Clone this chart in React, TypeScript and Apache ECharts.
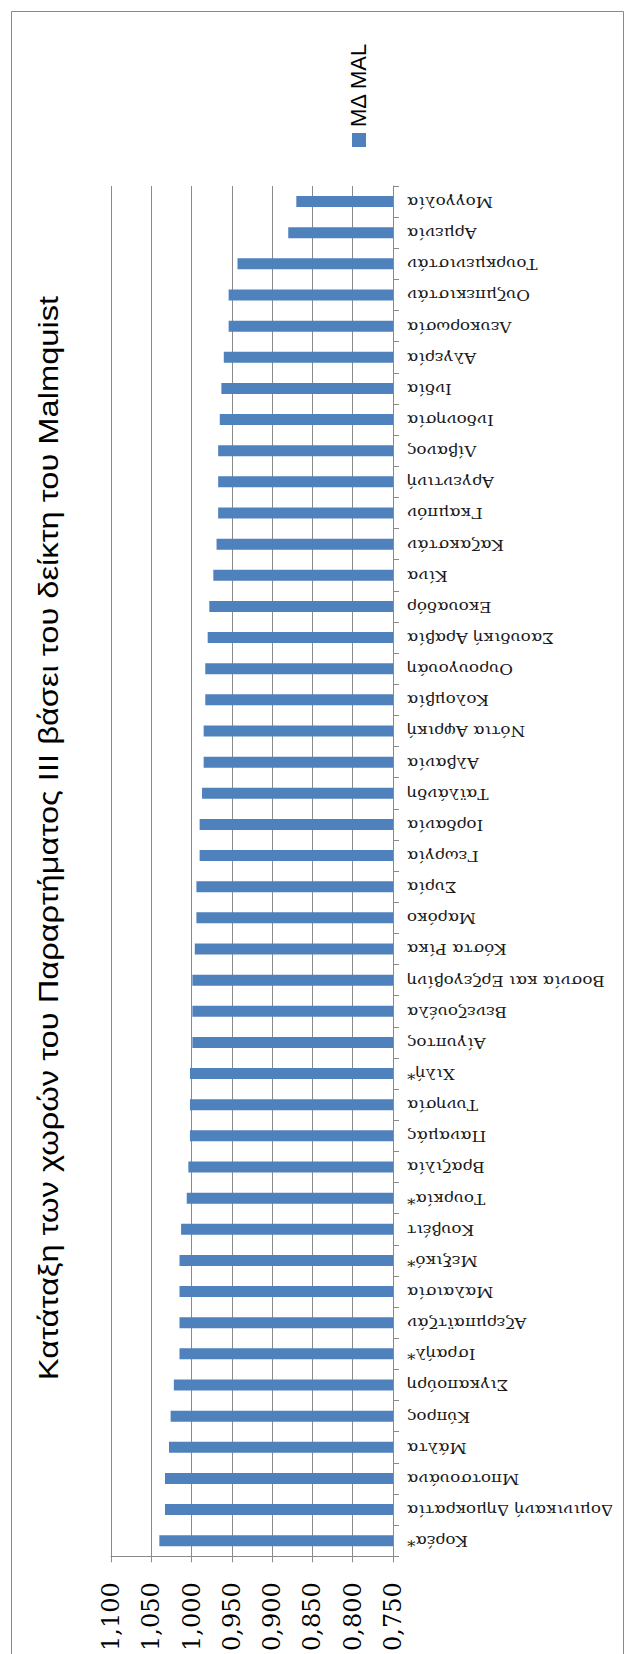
import { useEffect, useRef } from "react";
import * as echarts from "echarts";

// Countries, listed from the bottom of the category axis to the top.
const countries = [
  "Κορέα*", "Δομινικανή Δημοκρατία", "Μποτσουάνα", "Μάλτα", "Κύπρος",
  "Σιγκαπούρη", "Ισραήλ*", "Αζερμπαϊτζάν", "Μαλαισία", "Μεξικό*",
  "Κουβέιτ", "Τουρκία*", "Βραζιλία", "Παναμάς", "Τυνησία",
  "Χιλή*", "Αίγυπτος", "Βενεζουέλα", "Βοσνία και Ερζεγοβίνη", "Κόστα Ρίκα",
  "Μαρόκο", "Συρία", "Γεωργία", "Ιορδανία", "Ταϊλάνδη",
  "Αλβανία", "Νότια Αφρική", "Κολομβία", "Ουρουγουάη", "Σαουδική Αραβία",
  "Εκουαδόρ", "Κίνα", "Καζακστάν", "Γκαμπόν", "Αργεντινή",
  "Λίβανος", "Ινδονησία", "Ινδία", "Αλγερία", "Λευκορωσία",
  "Ουζμπεκιστάν", "Τουρκμενιστάν", "Αρμενία", "Μογγολία",
];

// Mean Malmquist index (ΜΔ MAL) per country, same order as above.
const malmquist = [
  1.040, 1.033, 1.033, 1.028, 1.026,
  1.022, 1.015, 1.015, 1.015, 1.015,
  1.013, 1.006, 1.004, 1.002, 1.002,
  1.002, 0.999, 0.999, 0.999, 0.996,
  0.994, 0.994, 0.990, 0.990, 0.987,
  0.985, 0.985, 0.983, 0.983, 0.980,
  0.978, 0.973, 0.969, 0.967, 0.967,
  0.967, 0.965, 0.963, 0.960, 0.954,
  0.954, 0.943, 0.880, 0.870,
];

const AXIS_MIN = 0.75;
const AXIS_MAX = 1.1;
const AXIS_STEP = 0.05;

const TITLE = "Κατάταξη των χωρών του Παραρτήματος III βάσει του δείκτη του Malmquist";
const SERIES_NAME = "ΜΔ MAL";

const BLUE = "#4f81bd";
const GRAY = "#8a8a8a";

export default function App() {
  const ref = useRef<HTMLDivElement>(null);

  useEffect(() => {
    document.body.style.margin = "0";
    const chart = echarts.init(ref.current!, null, { renderer: "svg" });

    chart.setOption({
      animation: false,
      backgroundColor: "#ffffff",
      grid: { left: 111, right: 233, top: 186, bottom: 85 },
      xAxis: {
        type: "value",
        inverse: true,
        min: AXIS_MIN,
        max: AXIS_MAX,
        interval: AXIS_STEP,
        position: "bottom",
        axisLine: { show: true, lineStyle: { color: GRAY, width: 1 } },
        axisTick: { show: true, length: 6, lineStyle: { color: GRAY } },
        splitLine: { show: true, lineStyle: { color: GRAY, width: 1 } },
        axisLabel: {
          rotate: 90,
          margin: 26,
          color: "#000",
          fontFamily: "DejaVu Serif",
          fontSize: 24,
          formatter: (v: number) => v.toFixed(3).replace(".", ","),
        },
      },
      yAxis: {
        type: "category",
        data: countries,
        position: "right",
        axisLine: { show: true, onZero: false, lineStyle: { color: GRAY, width: 1 } },
        axisTick: { show: true, length: 6, lineStyle: { color: GRAY } },
        axisLabel: { show: false },
        splitLine: { show: false },
      },
      series: [
        {
          type: "bar",
          name: SERIES_NAME,
          data: malmquist,
          barWidth: 11,
          itemStyle: { color: BLUE },
          silent: true,
        },
        {
          // upside-down country names beside the category axis
          type: "custom",
          data: malmquist.map((v, i) => [v, i]),
          encode: { x: 0, y: 1 },
          clip: false,
          silent: true,
          renderItem: (params: any, api: any) => {
            const pt = api.coord([api.value(0), api.value(1)]);
            const cs = params.coordSys;
            return {
              type: "text",
              x: cs.x + cs.width + 14,
              y: pt[1],
              rotation: Math.PI,
              scaleX: 1.2,
              style: {
                text: countries[params.dataIndex],
                fill: "#1a1a1a",
                font: '14px "DejaVu Serif"',
                align: "right",
                verticalAlign: "middle",
              },
            };
          },
        },
      ],
      graphic: [
        {
          type: "rect",
          silent: true,
          shape: { x: 11.5, y: 11.5, width: 612, height: 1700 },
          style: { fill: "none", stroke: GRAY, lineWidth: 1 },
        },
        {
          // chart title, reading bottom to top
          type: "text",
          silent: true,
          x: 49,
          y: 838,
          rotation: Math.PI / 2,
          scaleX: 1.21,
          style: {
            text: TITLE,
            fill: "#000",
            font: '27px "Liberation Sans"',
            align: "center",
            verticalAlign: "middle",
          },
        },
        {
          type: "rect",
          silent: true,
          shape: { x: 352, y: 133, width: 14, height: 14 },
          style: { fill: BLUE },
        },
        {
          type: "text",
          silent: true,
          x: 358,
          y: 127,
          rotation: Math.PI / 2,
          style: {
            text: SERIES_NAME,
            fill: "#000",
            font: '22px "Liberation Sans"',
            align: "left",
            verticalAlign: "middle",
          },
        },
      ],
    });

    return () => chart.dispose();
  }, []);

  return <div ref={ref} style={{ width: 626, height: 1654, background: "#fff" }} />;
}
